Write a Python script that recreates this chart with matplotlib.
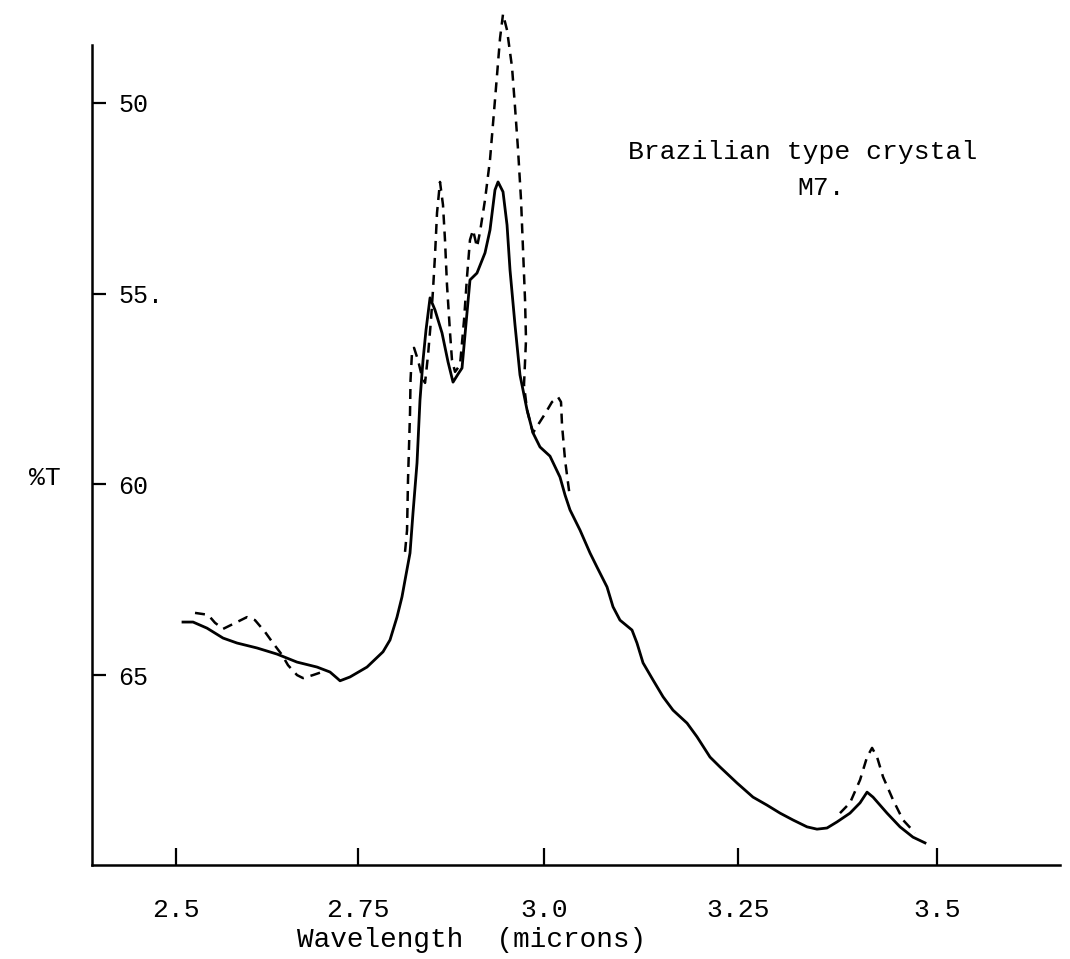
#!/usr/bin/env python3
"""
IR transmission spectrum - Brazilian type crystal M7 (redrawn)
"""

import numpy as np
import matplotlib.pyplot as plt

# 実線 (solid trace)
solid_wl = [2.5096, 2.5234, 2.5426, 2.5646, 2.5838, 2.6113, 2.6387, 2.6662, 2.6937,
            2.7115, 2.7212, 2.7253, 2.7390, 2.7621, 2.7836, 2.7930, 2.8024, 2.8091,
            2.8132, 2.8199, 2.8239, 2.8293, 2.8333, 2.8374, 2.8414, 2.8468, 2.8535,
            2.8629, 2.8710, 2.8777, 2.8844, 2.8898, 2.8938, 2.9005, 2.9099, 2.9207,
            2.9274, 2.9341, 2.9382, 2.9449, 2.9503, 2.9543, 2.9610, 2.9677, 2.9772,
            2.9852, 2.9946, 3.0077, 3.0206, 3.0271, 3.0335, 3.0464, 3.0593, 3.0683,
            3.0812, 3.0889, 3.0979, 3.1134, 3.1198, 3.1276, 3.1405, 3.1534, 3.1662,
            3.1843, 3.1972, 3.2139, 3.2268, 3.2487, 3.2688, 3.2864, 3.3028, 3.3191,
            3.3367, 3.3492, 3.3618, 3.3744, 3.3907, 3.4033, 3.4121, 3.4196, 3.4372,
            3.4535, 3.4698, 3.4849]
solid_T = [63.61, 63.61, 63.77, 64.03, 64.16, 64.29, 64.45, 64.66, 64.79,
           64.92, 65.08, 65.15, 65.05, 64.79, 64.39, 64.08, 63.48, 62.95,
           62.51, 61.80, 60.75, 59.44, 57.79, 56.74, 55.95, 55.11, 55.43,
           56.03, 56.79, 57.32, 57.11, 56.95, 56.08, 54.64, 54.46, 53.93,
           53.33, 52.28, 52.07, 52.33, 53.20, 54.38, 55.82, 57.13, 58.05,
           58.65, 59.02, 59.26, 59.81, 60.28, 60.67, 61.20, 61.80, 62.17,
           62.69, 63.21, 63.56, 63.82, 64.16, 64.68, 65.13, 65.57, 65.92,
           66.26, 66.62, 67.15, 67.41, 67.83, 68.20, 68.41, 68.62, 68.80,
           68.98, 69.04, 69.01, 68.85, 68.62, 68.35, 68.07, 68.20, 68.62,
           68.98, 69.25, 69.40]

# 破線 (dashed trace), three separate pieces
dash1_wl = [2.5261, 2.5440, 2.5536, 2.5646, 2.5838, 2.5975, 2.6085, 2.6223, 2.6332,
            2.6456, 2.6538, 2.6662, 2.6745, 2.6882, 2.7005]
dash1_T = [63.37, 63.42, 63.63, 63.79, 63.61, 63.48, 63.56, 63.87, 64.16,
           64.47, 64.74, 65.00, 65.08, 65.00, 64.92]

dash2_wl = [2.8132, 2.8159, 2.8172, 2.8199, 2.8206, 2.8226, 2.8253, 2.8306, 2.8360,
            2.8401, 2.8441, 2.8481, 2.8508, 2.8535, 2.8562, 2.8602, 2.8642, 2.8669,
            2.8696, 2.8737, 2.8763, 2.8804, 2.8871, 2.8925, 2.8965, 2.9005, 2.9046,
            2.9099, 2.9140, 2.9207, 2.9274, 2.9341, 2.9409, 2.9449, 2.9503, 2.9570,
            2.9610, 2.9651, 2.9691, 2.9718, 2.9745, 2.9758, 2.9731, 2.9772, 2.9852,
            2.9919, 3.0013, 3.0103, 3.0180, 3.0219, 3.0232, 3.0271, 3.0335]
dash2_T = [61.77, 61.20, 59.88, 58.13, 57.26, 56.53, 56.42, 56.74, 57.18,
           57.34, 56.61, 55.69, 54.90, 53.99, 52.88, 52.07, 52.67, 53.59,
           54.77, 56.03, 56.74, 57.05, 56.87, 55.69, 54.56, 53.59, 53.33,
           53.78, 53.38, 52.54, 51.49, 49.92, 48.30, 47.67, 48.09, 49.06,
           50.10, 51.23, 52.54, 53.85, 55.17, 56.21, 57.39, 58.05, 58.65,
           58.44, 58.15, 57.84, 57.71, 57.84, 58.44, 59.36, 60.36]

dash3_wl = [3.3781, 3.3907, 3.4033, 3.4121, 3.4184, 3.4247, 3.4322, 3.4447, 3.4573, 3.4724]
dash3_T = [68.62, 68.35, 67.75, 67.15, 66.91, 67.15, 67.67, 68.27, 68.80, 69.14]

x_ticks = [2.5, 2.75, 3.0, 3.25, 3.5]
x_tick_labels = ['2.5', '2.75', '3.0', '3.25', '3.5']
y_ticks = [50, 55, 60, 65]
y_tick_labels = ['50', '55.', '60', '65']

# チャート用紙の目盛り間隔が一定でないので区分線形スケールを使う
scale_wl = [2.0, 2.5, 2.75, 3.0, 3.25, 3.5, 4.0]
scale_pos = [-188, 176, 358, 544, 738, 937, 1335]


def fwd(x):
    return np.interp(x, scale_wl, scale_pos)


def inv(p):
    return np.interp(p, scale_pos, scale_wl)


W, H = 1070, 959
FONT = 'Liberation Mono'

fig = plt.figure(figsize=(W / 100, H / 100), dpi=100)
ax = fig.add_axes([92 / W, (H - 865) / H, (1060 - 92) / W, (865 - 45) / H])
ax.set_xscale('function', functions=(fwd, inv))
ax.set_xlim(2.3846, 3.6545)
ax.set_ylim(69.98, 48.48)

ax.plot(solid_wl, solid_T, color='black', lw=2.0, solid_joinstyle='round', clip_on=False)
for xs, ys in [(dash1_wl, dash1_T), (dash2_wl, dash2_T), (dash3_wl, dash3_T)]:
    ax.plot(xs, ys, color='black', lw=1.8, linestyle=(0, (4, 2.8)), clip_on=False)

for side in ['top', 'right']:
    ax.spines[side].set_visible(False)
for side in ['left', 'bottom']:
    ax.spines[side].set_linewidth(1.8)

ax.set_xticks(x_ticks)
ax.set_xticklabels(x_tick_labels, fontfamily=FONT, fontsize=19)
ax.xaxis.set_minor_locator(plt.NullLocator())
ax.tick_params(axis='x', direction='in', length=12, width=1.6, pad=24)

ax.set_yticks(y_ticks)
ax.set_yticklabels(y_tick_labels, fontfamily=FONT, fontsize=18)
ax.tick_params(axis='y', direction='in', length=10, width=1.6, pad=-19)
for lab in ax.get_yticklabels():
    lab.set_horizontalalignment('left')

fig.text(472 / W, 1 - 940 / H, 'Wavelength  (microns)', fontfamily=FONT, fontsize=20,
         ha='center', va='center')
fig.text(45 / W, 1 - 478 / H, '%T', fontfamily=FONT, fontsize=19, ha='center', va='center')
fig.text(628 / W, 1 - 152 / H, 'Brazilian type crystal', fontfamily=FONT, fontsize=19,
         ha='left', va='center')
fig.text(797 / W, 1 - 188 / H, 'M7.', fontfamily=FONT, fontsize=19, ha='left', va='center')

fig.savefig('out.png', dpi=100)
plt.close(fig)
